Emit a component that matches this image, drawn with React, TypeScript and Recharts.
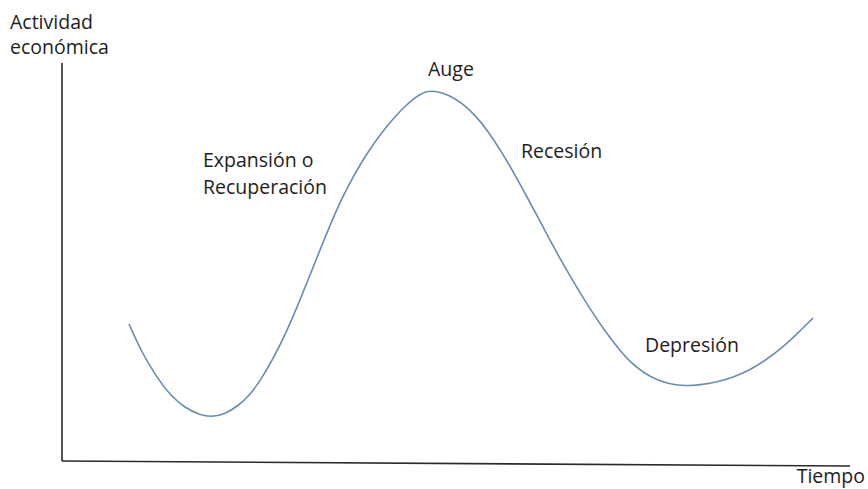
import { LineChart, Line, XAxis, YAxis, ReferenceLine, Customized } from "recharts";

// tiempo (horizontal units) and nivel de actividad (vertical units, 0 at bottom)
const tiempo = [129, 142, 156, 170, 185, 200, 212, 225, 238, 250, 262, 274, 286, 298, 310, 322, 335, 348, 361, 374, 387, 400, 413, 425, 437, 449, 462, 475, 488, 501, 514, 527, 540, 553, 566, 579, 592, 605, 618, 631, 644, 657, 670, 685, 700, 717, 734, 750, 766, 783, 798, 813];
const actividad = [165, 136, 113, 94, 81, 74, 72, 75, 83, 94, 111, 132, 156, 184, 214, 244, 276, 303, 326, 346, 363, 378, 390, 398, 398, 394, 386, 374, 358, 338, 316, 292, 268, 243, 220, 198, 177, 158, 141, 126, 116, 109, 105, 103, 104, 107, 112, 119, 129, 142, 156, 171];

const etiquetas = [
  { lines: ["Actividad", "económica"], x: 10, y: 29, gap: 25, anchor: "start" },
  { lines: ["Auge"], x: 428, y: 76, gap: 0, anchor: "start" },
  { lines: ["Expansión o", "Recuperación"], x: 203, y: 167, gap: 27, anchor: "start" },
  { lines: ["Recesión"], x: 521, y: 158, gap: 0, anchor: "start" },
  { lines: ["Depresión"], x: 645, y: 352, gap: 0, anchor: "start" },
  { lines: ["Tiempo"], x: 865, y: 483, gap: 0, anchor: "end" },
];

const data = tiempo.map((t, i) => ({ t, v: actividad[i] }));

const FONT = "'Open Sans', sans-serif";

function Labels() {
  return (
    <g>
      {etiquetas.map((e, i) => (
        <text key={i} x={e.x} y={e.y} fontFamily={FONT} fontSize={19.5} fill="#1e1e1e" textAnchor={e.anchor}>
          {e.lines.map((l, j) => (
            <tspan key={j} x={e.x} dy={j === 0 ? 0 : e.gap}>
              {l}
            </tspan>
          ))}
        </text>
      ))}
    </g>
  );
}

export default function App() {
  return (
    <div style={{ position: "absolute", left: 0, top: 0, width: 868, height: 489, background: "#fff" }}>
      <LineChart width={868} height={489} data={data} margin={{ top: 0, right: 0, bottom: 0, left: 0 }}>
        <XAxis type="number" dataKey="t" domain={[0, 868]} hide />
        <YAxis type="number" domain={[0, 489]} hide />
        <ReferenceLine segment={[{ x: 62, y: 426 }, { x: 62, y: 28 }]} stroke="#2b2b2b" strokeWidth={1.6} />
        <ReferenceLine segment={[{ x: 62, y: 28 }, { x: 850, y: 23 }]} stroke="#2b2b2b" strokeWidth={1.6} />
        <Line type="basis" dataKey="v" stroke="#6a8cb4" strokeWidth={1.6} dot={false} activeDot={false} isAnimationActive={false} />
        <Customized component={Labels} />
      </LineChart>
    </div>
  );
}
